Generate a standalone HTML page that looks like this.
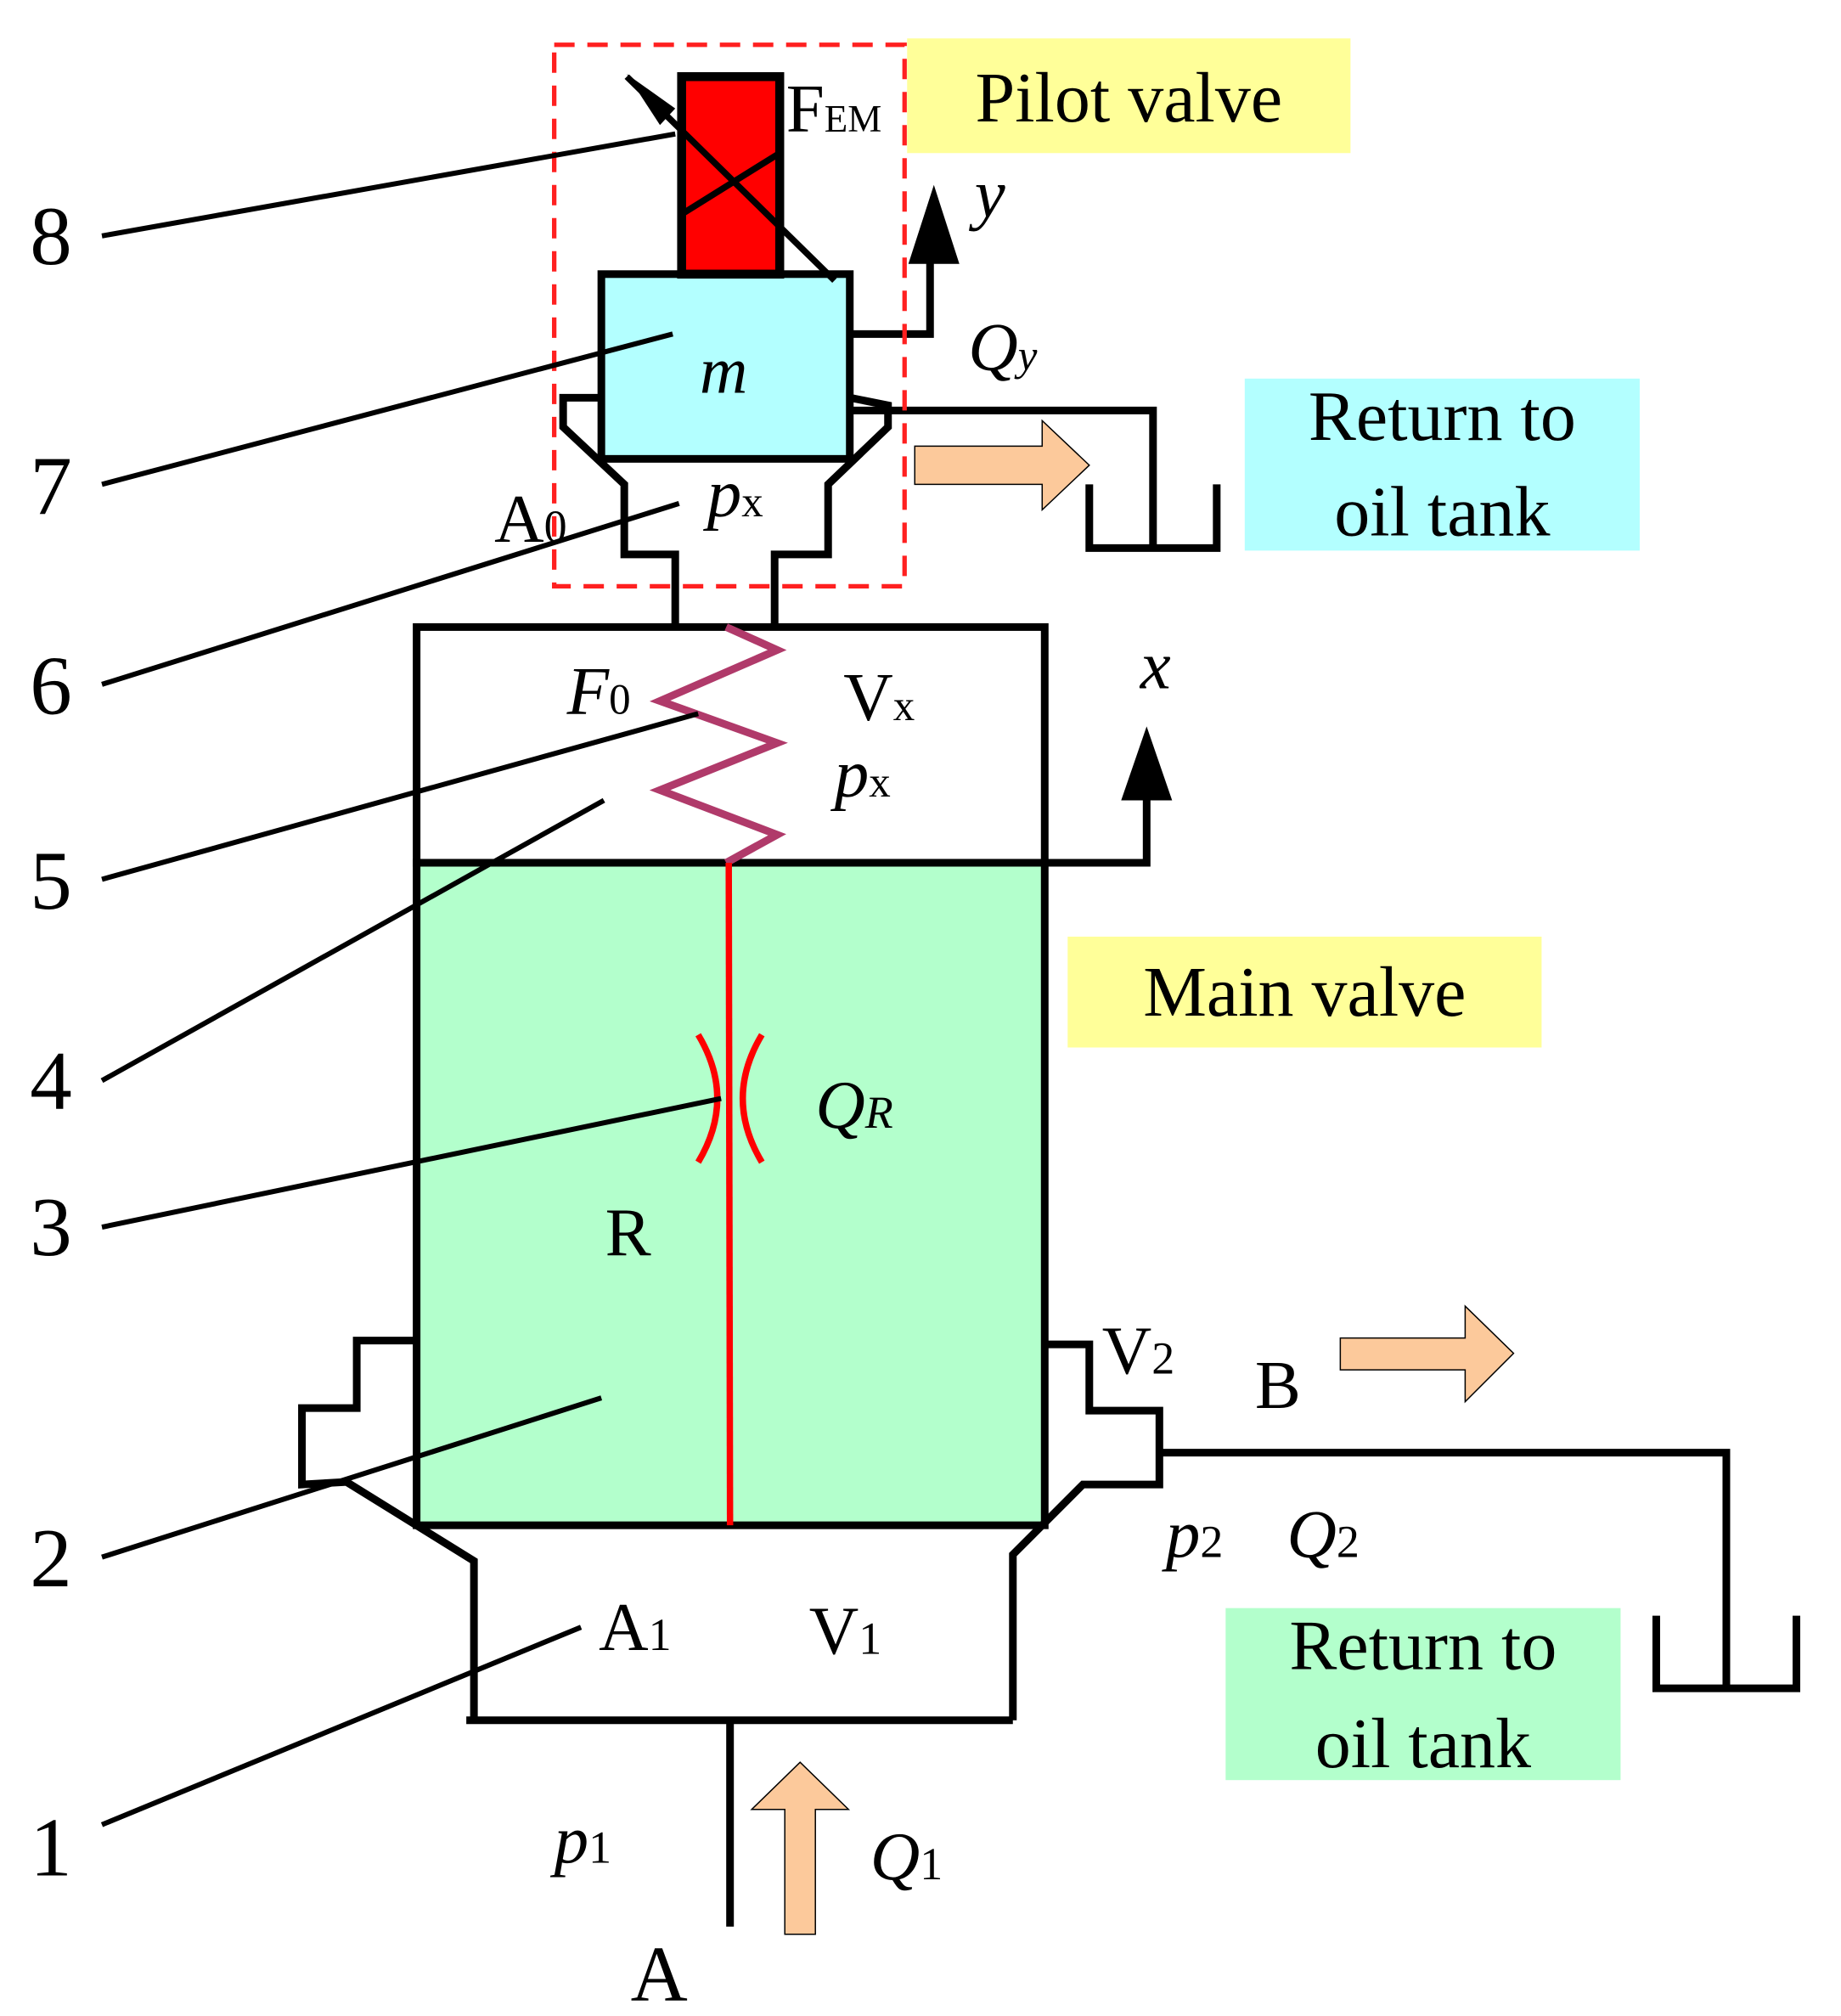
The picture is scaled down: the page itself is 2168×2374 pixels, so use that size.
<!DOCTYPE html>
<html><head><meta charset="utf-8"><style>html,body{margin:0;padding:0;background:#fff}svg{display:block}</style></head>
<body>
<svg width="2168" height="2374" viewBox="0 0 1445 1582" xmlns="http://www.w3.org/2000/svg" font-family="Liberation Serif, serif">
<rect width="1445" height="1582" fill="#fff"/>
<rect x="712" y="30" width="348" height="90" fill="#ffff99"/>
<text x="886" y="95" font-size="56" text-anchor="middle">Pilot valve</text>
<rect x="977" y="297" width="310" height="135" fill="#b3ffff"/>
<text x="1132" y="345" font-size="56" text-anchor="middle">Return to</text>
<text x="1132" y="420" font-size="56" text-anchor="middle">oil tank</text>
<rect x="838" y="735" width="372" height="87" fill="#ffff99"/>
<text x="1024" y="797" font-size="56" text-anchor="middle">Main valve</text>
<rect x="962" y="1262" width="310" height="135" fill="#b3ffcc"/>
<text x="1117" y="1310" font-size="56" text-anchor="middle">Return to</text>
<text x="1117" y="1387" font-size="56" text-anchor="middle">oil tank</text>

<rect x="327" y="677" width="493" height="520" fill="#b3ffcc" stroke="#000" stroke-width="6"/>
<rect x="327" y="492" width="493" height="185" fill="#fff" stroke="#000" stroke-width="6"/>
<g fill="none" stroke="#000" stroke-width="6">
<polyline points="327,1052 280,1052 280,1105 237,1105 237,1165 272,1163 372,1225 372,1350"/>
<polyline points="820,1055 855,1055 855,1107 910,1107 910,1165 850,1165 795,1220 795,1350"/>
<line x1="366" y1="1350" x2="795" y2="1350"/>
<line x1="573" y1="1350" x2="573" y2="1512"/>
<polyline points="910,1140 1355,1140 1355,1325"/>
<polyline points="1300,1268 1300,1325 1410,1325 1410,1268"/>
<polyline points="820,677 900,677 900,620"/>
<polyline points="472,312 442,312 442,335 490,380 490,435 530,435 530,492"/>
<polyline points="667,312 697,318 697,335 650,380 650,435 608,435 608,492"/>
<polyline points="667,322 905,322 905,430"/>
<polyline points="855,380 855,430 955,430 955,380"/>
<polyline points="667,262 730,262 730,195"/>
</g>
<polygon points="900,570 880,628 920,628" fill="#000"/>
<polygon points="733,145 713,207 753,207" fill="#000"/>
<rect x="472" y="215" width="195" height="145" fill="#b3ffff" stroke="#000" stroke-width="6"/>
<text x="568" y="308" font-size="52" font-style="italic" text-anchor="middle">m</text>
<rect x="535" y="60" width="77" height="155" fill="#ff0000" stroke="#000" stroke-width="7"/>
<g stroke="#000" stroke-width="5" fill="none">
<line x1="535" y1="168" x2="612" y2="120"/>
<line x1="492" y1="60" x2="655" y2="220"/>
</g>
<polygon points="492,58 530,85 518,98" fill="#000"/>
<rect x="435" y="35" width="275" height="425" fill="none" stroke="#ff2020" stroke-width="3.5" stroke-dasharray="16,10"/>
<polyline points="570,492 610,510 518,550 610,583 518,620 610,655 570,677" fill="none" stroke="#b03a6a" stroke-width="6"/>
<line x1="572" y1="677" x2="573" y2="1197" stroke="#ff0000" stroke-width="5"/>
<path d="M548,812 Q578,862 548,912" fill="none" stroke="#ff0000" stroke-width="5"/>
<path d="M598,812 Q568,862 598,912" fill="none" stroke="#ff0000" stroke-width="5"/>
<polygon points="718,350 818,350 818,330 855,365 818,400 818,380 718,380" fill="#fcc99b" stroke="#000" stroke-width="1"/>
<polygon points="1052,1050 1150,1050 1150,1025 1188,1062 1150,1100 1150,1075 1052,1075" fill="#fcc99b" stroke="#000" stroke-width="1"/>
<polygon points="616,1518 616,1420 590,1420 628,1383 666,1420 640,1420 640,1518" fill="#fcc99b" stroke="#000" stroke-width="1"/>
<g stroke="#000" stroke-width="4">
<line x1="80" y1="185" x2="530" y2="105"/>
<line x1="80" y1="380" x2="528" y2="262"/>
<line x1="80" y1="537" x2="533" y2="395"/>
<line x1="80" y1="690" x2="548" y2="560"/>
<line x1="80" y1="848" x2="474" y2="628"/>
<line x1="80" y1="963" x2="566" y2="862"/>
<line x1="80" y1="1222" x2="472" y2="1097"/>
<line x1="80" y1="1432" x2="456" y2="1277"/>
</g>
<g font-size="66" text-anchor="middle">
<text x="40" y="207">8</text><text x="40" y="403">7</text><text x="40" y="560">6</text>
<text x="40" y="713">5</text><text x="40" y="870">4</text><text x="40" y="985">3</text>
<text x="40" y="1245">2</text><text x="40" y="1472">1</text>
</g>
<g font-size="54">
<text x="617" y="103">F<tspan font-size="30">EM</tspan></text>
<text x="765" y="170" font-style="italic">y</text>
<text x="760" y="290" font-style="italic">Q<tspan font-size="34">y</tspan></text>
<text x="388" y="425">A<tspan font-size="36">0</tspan></text>
<text x="555" y="405" font-style="italic">p<tspan font-size="34" font-style="normal">x</tspan></text>
<text x="445" y="560" font-style="italic">F<tspan font-size="34" font-style="normal">0</tspan></text>
<text x="662" y="565">V<tspan font-size="34">x</tspan></text>
<text x="655" y="625" font-style="italic">p<tspan font-size="34" font-style="normal">x</tspan></text>
<text x="895" y="540" font-style="italic">x</text>
<text x="640" y="885" font-style="italic">Q<tspan font-size="36">R</tspan></text>
<text x="475" y="985">R</text>
<text x="865" y="1078">V<tspan font-size="36">2</tspan></text>
<text x="985" y="1105">B</text>
<text x="915" y="1222" font-style="italic">p<tspan font-size="36" font-style="normal">2</tspan></text>
<text x="1010" y="1222" font-style="italic">Q<tspan font-size="36" font-style="normal">2</tspan></text>
<text x="470" y="1295">A<tspan font-size="36">1</tspan></text>
<text x="635" y="1298">V<tspan font-size="36">1</tspan></text>
<text x="435" y="1462" font-style="italic">p<tspan font-size="36" font-style="normal">1</tspan></text>
<text x="683" y="1475" font-style="italic">Q<tspan font-size="36" font-style="normal">1</tspan></text>
<text x="495" y="1570" font-size="62">A</text>
</g>
</svg>
</body></html>
